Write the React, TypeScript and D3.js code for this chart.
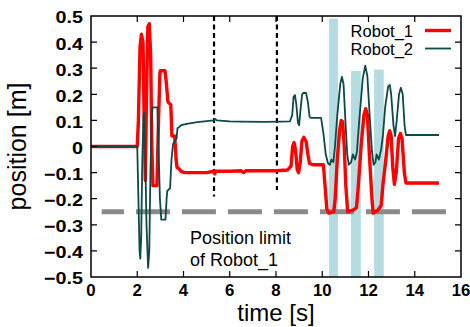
import React, { useRef, useEffect } from 'react';
import * as d3 from 'd3';

const xTicks = [0, 2, 4, 6, 8, 10, 12, 14, 16];
const yTicks = [-0.5, -0.4, -0.3, -0.2, -0.1, 0, 0.1, 0.2, 0.3, 0.4, 0.5];

// Robot_1 position (red)
const robot1Time = [
  0, 2.0, 2.05, 2.12, 2.18, 2.25, 2.3, 2.35, 2.4, 2.46, 2.52, 2.58, 2.63, 2.68, 2.85, 2.92, 2.98, 3.0, 3.2, 3.25,
  3.33, 3.45, 3.5, 3.62, 3.68, 3.72, 3.8, 3.9, 4.05, 4.5, 5.0, 5.3, 5.35, 5.4, 6.0, 6.5, 6.6, 6.7, 7.5, 8.0,
  8.5, 8.65, 8.72, 8.78, 8.84, 8.92, 8.98, 9.05, 9.12, 9.2, 9.3, 9.38, 9.45, 9.6, 10.05, 10.12, 10.2, 10.28, 10.5, 10.56,
  10.65, 10.75, 10.82, 10.88, 10.95, 11.02, 11.1, 11.3, 11.48, 11.56, 11.68, 11.8, 11.88, 11.95, 12.05, 12.15, 12.2, 12.4, 12.55, 12.62,
  12.75, 12.85, 12.92, 12.98, 13.05, 13.12, 13.2, 13.3, 13.38, 13.45, 13.55, 13.62, 15.05,
];
const robot1Pos = [
  0, 0, 0.1, 0.38, 0.43, 0.4, 0.1, -0.13, 0.2, 0.46, 0.47, 0.35, 0.0, -0.15, -0.15, 0.1, 0.28, 0.29, 0.29, 0.25,
  0.17, 0.16, 0.04, 0.04, -0.05, -0.08, -0.085, -0.095, -0.1, -0.1, -0.1, -0.095, -0.105, -0.095, -0.095, -0.093, -0.1, -0.093, -0.093, -0.093,
  -0.09, -0.075, 0.0, 0.015, -0.01, -0.09, -0.1, -0.06, 0.02, 0.035, 0.02, -0.03, -0.065, -0.07, -0.07, -0.15, -0.24, -0.255, -0.25, -0.2,
  -0.05, 0.06, 0.1, 0.095, 0.0, -0.15, -0.25, -0.245, -0.235, -0.15, 0.0, 0.12, 0.145, 0.12, -0.05, -0.2, -0.255, -0.245, -0.225, -0.15,
  -0.05, 0.04, 0.06, 0.04, -0.08, -0.145, -0.1, 0.03, 0.05, 0.03, -0.1, -0.14, -0.14,
];

// Robot_2 position (dark teal)
const robot2Time = [
  0, 2.0, 2.05, 2.1, 2.13, 2.17, 2.22, 2.27, 2.3, 2.34, 2.4, 2.47, 2.52, 2.57, 2.62, 2.66, 2.87, 2.92, 2.98, 3.04,
  3.22, 3.27, 3.3, 3.42, 3.48, 3.55, 3.65, 3.7, 3.74, 3.82, 3.9, 4.2, 4.6, 5.0, 5.3, 5.35, 5.45, 6.0, 6.5, 7.5,
  8.2, 8.6, 8.7, 8.76, 8.82, 8.88, 8.95, 9.0, 9.07, 9.13, 9.2, 9.3, 9.38, 9.45, 9.5, 9.95, 10.05, 10.15, 10.25, 10.33,
  10.4, 10.48, 10.55, 10.65, 10.78, 10.85, 10.92, 11.0, 11.08, 11.15, 11.25, 11.32, 11.42, 11.5, 11.6, 11.75, 11.86, 11.95, 12.05, 12.15,
  12.22, 12.3, 12.35, 12.45, 12.55, 12.62, 12.72, 12.85, 12.92, 12.98, 13.08, 13.15, 13.22, 13.32, 13.4, 13.48, 13.56, 13.62, 15.05,
];
const robot2Pos = [
  0, 0, -0.2, -0.4, -0.43, -0.35, -0.05, 0.12, 0.13, 0.0, -0.3, -0.465, -0.4, -0.1, 0.1, 0.15, 0.15, 0.0, -0.2, -0.28,
  -0.28, -0.2, -0.17, -0.16, -0.05, 0.01, 0.025, 0.03, 0.07, 0.075, 0.082, 0.088, 0.093, 0.097, 0.1, 0.106, 0.1, 0.096, 0.095, 0.094,
  0.095, 0.096, 0.12, 0.19, 0.197, 0.16, 0.09, 0.082, 0.15, 0.2, 0.206, 0.205, 0.17, 0.115, 0.11, 0.11, 0.05, -0.03, -0.065, -0.07,
  -0.05, -0.06, 0.0, 0.12, 0.24, 0.267, 0.24, 0.1, -0.03, -0.07, -0.06, -0.03, -0.05, -0.02, 0.1, 0.26, 0.31, 0.27, 0.12, -0.02,
  -0.07, -0.06, -0.03, -0.05, -0.01, 0.04, 0.15, 0.23, 0.236, 0.2, 0.08, 0.04, 0.1, 0.2, 0.225, 0.2, 0.08, 0.044, 0.044,
];

// shaded intervals
const shadeStart = [10.29, 11.24, 12.24];
const shadeEnd = [10.68, 11.67, 12.66];
const shadeTop = [0.49, 0.29, 0.295];

// vertical dashed markers
const markerTime = [5.32, 8.04];
const markerBottom = [-0.192, -0.167];

const limitValue = -0.25;
const limitRange = [0.46, 15.38];

const W = 470;
const H = 327;

function App() {
  const svgRef = useRef<SVGSVGElement>(null);

  useEffect(() => {
    const svg = d3.select(svgRef.current);
    svg.selectAll('*').remove();

    const x = d3.scaleLinear().domain([0, 16]).range([91, 461]);
    const y = d3.scaleLinear().domain([-0.5, 0.5]).range([277, 16]);
    const font = 'Liberation Sans, Arial, sans-serif';

    // shaded boxes
    svg
      .selectAll('.shade')
      .data(shadeStart)
      .join('rect')
      .attr('class', 'shade')
      .attr('x', d => x(d))
      .attr('width', (d, i) => x(shadeEnd[i]) - x(d))
      .attr('y', (d, i) => y(shadeTop[i]))
      .attr('height', (d, i) => y(-0.5) - y(shadeTop[i]))
      .attr('fill', '#b5dde1');

    // position limit
    svg
      .append('line')
      .attr('x1', x(limitRange[0]))
      .attr('x2', x(limitRange[1]))
      .attr('y1', y(limitValue))
      .attr('y2', y(limitValue))
      .attr('stroke', '#8a8a8a')
      .attr('stroke-width', 5)
      .attr('stroke-dasharray', '34,12')
      .attr('stroke-dashoffset', 11.7);

    // vertical markers
    svg
      .selectAll('.marker')
      .data(markerTime)
      .join('line')
      .attr('class', 'marker')
      .attr('x1', d => x(d))
      .attr('x2', d => x(d))
      .attr('y1', y(0.5))
      .attr('y2', (d, i) => y(markerBottom[i]))
      .attr('stroke', '#000')
      .attr('stroke-width', 2.2)
      .attr('stroke-dasharray', '5,3.5');

    const line = d3
      .line<number[]>()
      .x(d => x(d[0]))
      .y(d => y(d[1]));

    const r1 = robot1Time.map((t, i) => [t, robot1Pos[i]]);
    const r2 = robot2Time.map((t, i) => [t, robot2Pos[i]]);

    svg
      .append('path')
      .attr('d', line(r1))
      .attr('fill', 'none')
      .attr('stroke', '#ff0000')
      .attr('stroke-width', 3.4)
      .attr('stroke-linejoin', 'round');
    svg
      .append('path')
      .attr('d', line(r2))
      .attr('fill', 'none')
      .attr('stroke', '#0b4a46')
      .attr('stroke-width', 1.8)
      .attr('stroke-linejoin', 'round');

    // frame
    svg
      .append('rect')
      .attr('x', x(0))
      .attr('y', y(0.5))
      .attr('width', x(16) - x(0))
      .attr('height', y(-0.5) - y(0.5))
      .attr('fill', 'none')
      .attr('stroke', '#000')
      .attr('stroke-width', 1.5);

    // ticks on all four sides, pointing inwards
    const tk = 6;
    svg
      .selectAll('.xt')
      .data(xTicks.slice(1, -1))
      .join('path')
      .attr('class', 'xt')
      .attr('d', d => `M${x(d)},${y(-0.5)}v${-tk}M${x(d)},${y(0.5)}v${tk}`)
      .attr('stroke', '#000')
      .attr('stroke-width', 1.2);
    svg
      .selectAll('.yt')
      .data(yTicks.slice(1, -1))
      .join('path')
      .attr('class', 'yt')
      .attr('d', d => `M${x(0)},${y(d)}h${tk}M${x(16)},${y(d)}h${-tk}`)
      .attr('stroke', '#000')
      .attr('stroke-width', 1.2);

    // tick labels (a bit wider than the plain font)
    svg
      .selectAll('.xl')
      .data(xTicks)
      .join('text')
      .attr('class', 'xl')
      .attr('transform', d => `translate(${x(d)},295.5) scale(1.05,1)`)
      .attr('text-anchor', 'middle')
      .style('font', `bold 16px ${font}`)
      .text(d => d3.format('d')(d));
    svg
      .selectAll('.yl')
      .data(yTicks)
      .join('text')
      .attr('class', 'yl')
      .attr('transform', d => `translate(83,${y(d) + 1.5}) scale(1.2,1)`)
      .attr('dy', '0.36em')
      .attr('text-anchor', 'end')
      .style('font', `bold 16.5px ${font}`)
      .text(d => (d === 0 ? '0' : d3.format('.1f')(d)));

    // axis titles
    svg
      .append('text')
      .attr('transform', `translate(26,${(y(0.5) + y(-0.5)) / 2}) rotate(-90)`)
      .attr('text-anchor', 'middle')
      .style('font', `25px ${font}`)
      .text('position [m]');
    svg
      .append('text')
      .attr('x', (x(0) + x(16)) / 2)
      .attr('y', 321)
      .attr('text-anchor', 'middle')
      .style('font', `24px ${font}`)
      .text('time [s]');

    // annotation
    svg
      .append('text')
      .attr('x', 190)
      .attr('y', 244)
      .style('font', `18px ${font}`)
      .text('Position limit');
    svg
      .append('text')
      .attr('x', 190)
      .attr('y', 266)
      .style('font', `18px ${font}`)
      .text('of Robot_1');

    // legend
    const legend = [
      { name: 'Robot_1', color: '#ff0000', width: 3.4, base: 36.5, ly: 30.5 },
      { name: 'Robot_2', color: '#0b4a46', width: 1.8, base: 54.5, ly: 48.5 },
    ];
    svg
      .selectAll('.lgt')
      .data(legend)
      .join('text')
      .attr('class', 'lgt')
      .attr('x', 413)
      .attr('y', d => d.base)
      .attr('text-anchor', 'end')
      .style('font', `16.5px ${font}`)
      .text(d => d.name);
    svg
      .selectAll('.lgl')
      .data(legend)
      .join('line')
      .attr('class', 'lgl')
      .attr('x1', 425)
      .attr('x2', 451)
      .attr('y1', d => d.ly)
      .attr('y2', d => d.ly)
      .attr('stroke', d => d.color)
      .attr('stroke-width', d => d.width);
  }, []);

  return (
    <div>
      <svg
        ref={svgRef}
        width={W}
        height={H}
        style={{ position: 'absolute', left: 0, top: 0, background: '#fff' }}
      ></svg>
    </div>
  );
}

export default App;
